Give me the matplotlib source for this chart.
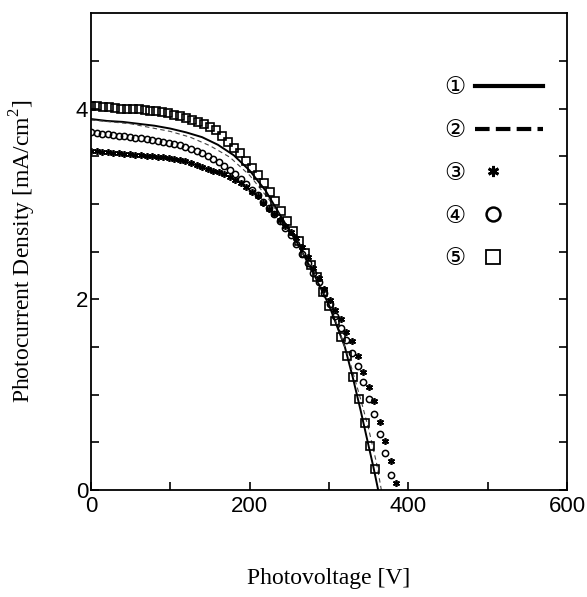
import matplotlib
matplotlib.use('Agg')
import matplotlib.pyplot as plt
from matplotlib.lines import Line2D
from matplotlib.markers import MarkerStyle
from matplotlib.transforms import Affine2D

plt.rcParams['mathtext.fontset'] = 'custom'
plt.rcParams['mathtext.rm'] = 'Liberation Serif'

# curve 1: solid line
v1 = [0, 20, 40, 60, 80, 100, 120, 140, 160, 180, 200, 220, 240, 260, 280, 300, 320, 330, 340, 350, 356, 362]
j1 = [3.89, 3.87, 3.86, 3.84, 3.82, 3.79, 3.75, 3.70, 3.62, 3.51, 3.35, 3.14, 2.86, 2.59, 2.28, 1.94, 1.50, 1.18, 0.83, 0.46, 0.24, 0.0]

# curve 2: dashed line
v2 = [0, 25, 50, 75, 100, 125, 150, 175, 200, 225, 250, 275, 300, 325, 340, 350, 360, 366]
j2 = [3.88, 3.86, 3.84, 3.80, 3.76, 3.70, 3.61, 3.49, 3.30, 3.04, 2.72, 2.36, 1.97, 1.38, 0.95, 0.64, 0.28, 0.0]

# curve 3: asterisks
v3 = [0, 7, 14, 21, 28, 35, 42, 49, 56, 63, 70, 77, 84, 91, 98, 105, 112, 119, 126, 133,
      140, 147, 154, 161, 168, 175, 182, 189, 196, 203, 210, 217, 224, 231, 238, 245, 252, 259,
      266, 273, 280, 287, 294, 301, 308, 315, 322, 329, 336, 343, 350, 357, 364, 371, 378, 385]
j3 = [3.55, 3.55, 3.54, 3.54, 3.53, 3.53, 3.52, 3.52, 3.51, 3.51, 3.50, 3.50, 3.49, 3.49, 3.48,
      3.47, 3.46, 3.45, 3.43, 3.41, 3.39, 3.37, 3.35, 3.33, 3.31, 3.28, 3.25, 3.22, 3.18, 3.13,
      3.08, 3.01, 2.95, 2.89, 2.83, 2.77, 2.71, 2.64, 2.55, 2.44, 2.33, 2.22, 2.11, 1.99, 1.89,
      1.79, 1.66, 1.56, 1.41, 1.24, 1.08, 0.93, 0.71, 0.52, 0.31, 0.07]

# curve 4: circles
v4 = [0, 7, 14, 21, 28, 35, 42, 49, 56, 63, 70, 77, 84, 91, 98, 105, 112, 119, 126, 133,
      140, 147, 154, 161, 168, 175, 182, 189, 196, 203, 210, 217, 224, 231, 238, 245, 252, 259,
      266, 273, 280, 287, 294, 301, 308, 315, 322, 329, 336, 343, 350, 357, 364, 371, 378]
j4 = [3.75, 3.74, 3.73, 3.73, 3.72, 3.71, 3.71, 3.70, 3.69, 3.69, 3.68, 3.67, 3.66, 3.65, 3.64,
      3.63, 3.62, 3.60, 3.58, 3.56, 3.53, 3.50, 3.47, 3.44, 3.40, 3.36, 3.31, 3.26, 3.21, 3.15,
      3.09, 3.02, 2.96, 2.89, 2.82, 2.75, 2.67, 2.58, 2.48, 2.38, 2.28, 2.18, 2.07, 1.95, 1.83,
      1.70, 1.57, 1.44, 1.30, 1.13, 0.96, 0.80, 0.59, 0.39, 0.16]

# curve 5: squares
v5 = [0, 7.5, 15, 22.5, 30, 37.5, 45, 52.5, 60, 67.5, 75, 82.5, 90, 97.5, 105, 112.5, 120, 127.5,
      135, 142.5, 150, 157.5, 165, 172.5, 180, 187.5, 195, 202.5, 210, 217.5, 225, 232.5, 240,
      247.5, 255, 262.5, 270, 277.5, 285, 292.5, 300, 307.5, 315, 322.5, 330, 337.5, 345, 351.5, 358]
j5 = [4.03, 4.03, 4.02, 4.02, 4.01, 4.00, 4.00, 3.99, 3.99, 3.98, 3.97, 3.97, 3.96, 3.95, 3.93,
      3.92, 3.90, 3.88, 3.86, 3.84, 3.81, 3.77, 3.71, 3.65, 3.59, 3.53, 3.45, 3.38, 3.30, 3.22,
      3.13, 3.03, 2.93, 2.82, 2.72, 2.61, 2.49, 2.36, 2.23, 2.08, 1.93, 1.77, 1.60, 1.41, 1.19,
      0.96, 0.70, 0.46, 0.22]

labels = ['①', '②', '③', '④', '⑤']
star = (6, 2, 0)

fig = plt.figure(figsize=(5.87, 5.97), dpi=100)
ax = fig.add_axes([0.155, 0.179, 0.811, 0.799])

ax.plot(v1, j1, color='black', lw=1.4)
ax.plot(v2, j2, color='#444444', lw=0.8, ls=(0, (4, 3)))
ax.plot(v3, j3, ls='none', marker=star, ms=5, mew=1.2, color='black')
ax.plot(v4, j4, ls='none', marker='o', ms=4.5, mew=1.1, mfc='none', mec='black')
ax.plot(v5, j5, ls='none', marker='s', ms=5.2, mew=1.2, mfc='none', mec='black')


def left_marker(m, ms):
    # legend markers sit left of the handle centre, as in the original
    return MarkerStyle(m, transform=Affine2D().translate(-11.5 / ms, 0))


handles = [
    Line2D([], [], color='black', lw=3),
    Line2D([], [], color='black', lw=3, ls=(0, (3.5, 1.5))),
    Line2D([], [], ls='none', marker=left_marker(star, 8), ms=8, mew=2, color='black'),
    Line2D([], [], ls='none', marker=left_marker('o', 10), ms=10, mew=1.8, mfc='none', mec='black'),
    Line2D([], [], ls='none', marker=left_marker('s', 10), ms=10, mew=1.3, mfc='none', mec='black'),
]
ax.legend(handles, labels, loc='upper right', bbox_to_anchor=(0.995, 0.915), frameon=False,
          markerfirst=False, handlelength=2.9, labelspacing=0.8, handletextpad=0.4,
          prop={'family': ['DejaVu Sans', 'Noto Sans CJK JP'], 'size': 17})

ax.set_xlim(0, 600)
ax.set_ylim(0, 5)
ax.set_xticks([0, 200, 400, 600])
ax.set_xticks([100, 300, 500], minor=True)
ax.set_yticks([0, 2, 4])
ax.set_yticks([0.5, 1, 1.5, 2.5, 3, 3.5, 4.5], minor=True)
ax.tick_params(which='both', direction='in', length=6, width=1.2, right=True, top=False,
               labelsize=16, pad=4)
ax.tick_params(axis='y', pad=2)
for lab in ax.get_xticklabels() + ax.get_yticklabels():
    lab.set_family('Liberation Sans')
for s in ax.spines.values():
    s.set_linewidth(1.3)

ax.set_xlabel('Photovoltage [V]', family='Liberation Serif', fontsize=17, labelpad=37)
ax.set_ylabel(r'Photocurrent Density [mA/cm$^{\mathrm{2}}$]', family='Liberation Serif',
              fontsize=17, labelpad=27)

fig.savefig('out.png', dpi=100)
